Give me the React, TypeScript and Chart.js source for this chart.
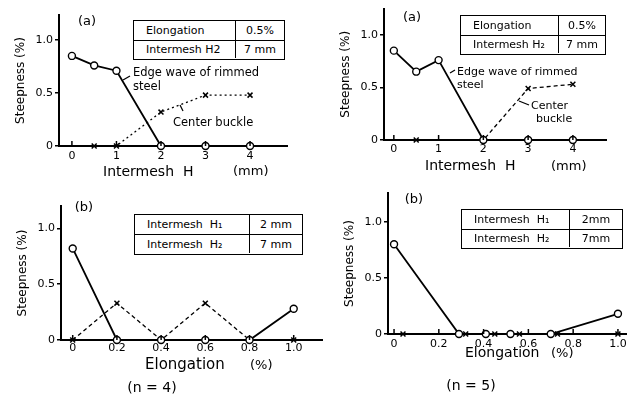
import React, { useEffect, useRef } from 'react';
import { Chart, registerables } from 'chart.js';

Chart.register(...registerables);

// ---------- data ----------
const intermeshTickValues = [0, 1, 2, 3, 4];
const intermeshTickLabels = ['0', '1', '2', '3', '4'];
const elongationTickValues = [0, 0.2, 0.4, 0.6, 0.8, 1.0];
const elongationTickLabels = ['0', '0.2', '0.4', '0.6', '0.8', '1.0'];
const steepnessTickValues = [0, 0.5, 1.0];
const steepnessTickLabels = ['0', '0.5', '1.0'];

// (a) n = 4 : edge wave (circles) and center buckle (crosses)
const aLeftEdgeX = [0, 0.5, 1, 2, 3, 4];
const aLeftEdgeY = [0.85, 0.76, 0.71, 0, 0, 0];
const aLeftCenterX = [0.5, 1, 2, 3, 4];
const aLeftCenterY = [0, 0, 0.32, 0.48, 0.48];

// (a) n = 5
const aRightEdgeX = [0, 0.5, 1, 2, 3, 4];
const aRightEdgeY = [0.85, 0.65, 0.76, 0, 0, 0];
const aRightCenterX = [0.5, 2, 3, 4];
const aRightCenterY = [0, 0, 0.49, 0.53];

// (b) n = 4
const bLeftEdgeX = [0, 0.2, 0.4, 0.6, 0.8, 1.0];
const bLeftEdgeY = [0.82, 0, 0, 0, 0, 0.28];
const bLeftCenterX = [0, 0.2, 0.4, 0.6, 0.8, 1.0];
const bLeftCenterY = [0, 0.33, 0, 0.33, 0, 0];

// (b) n = 5
const bRightEdgeX = [0, 0.29, 0.41, 0.52, 0.7, 1.0];
const bRightEdgeY = [0.8, 0, 0, 0, 0, 0.18];
const bRightCenterX = [0.04, 0.32, 0.45, 0.56, 0.73, 1.0];
const bRightCenterY = [0, 0, 0, 0, 0, 0];

const aLeftTable = [['Elongation', '0.5%'], ['Intermesh H2', '7 mm']];
const aRightTable = [['Elongation', '0.5%'], ['Intermesh H\u2082', '7 mm']];
const bLeftTable = [['Intermesh  H\u2081', '2 mm'], ['Intermesh  H\u2082', '7 mm']];
const bRightTable = [['Intermesh  H\u2081', '2mm'], ['Intermesh  H\u2082', '7mm']];

const FONT = '"DejaVu Sans", "Liberation Sans", sans-serif';
const W = 636;
const H = 396;
const Y_AXIS_W = 50;
const X_AXIS_H = 20;

type Panel = {
  area: { left: number; top: number; right: number; bottom: number };
  xMin: number;
  xMax: number;
  yMax: number;
  xTicks: number[];
  xLabels: string[];
  edgeX: number[];
  edgeY: number[];
  centerX: number[];
  centerY: number[];
  dash: number[];
  xPad: number;
};

const panels: Panel[] = [
  {
    area: { left: 59, top: 15, right: 287, bottom: 146 },
    xMin: -0.29, xMax: 4.83, yMax: 1.236,
    xTicks: intermeshTickValues, xLabels: intermeshTickLabels,
    edgeX: aLeftEdgeX, edgeY: aLeftEdgeY, centerX: aLeftCenterX, centerY: aLeftCenterY,
    dash: [2, 3], xPad: 4,
  },
  {
    area: { left: 384, top: 7, right: 606, bottom: 140 },
    xMin: -0.22, xMax: 4.74, yMax: 1.25,
    xTicks: intermeshTickValues, xLabels: intermeshTickLabels,
    edgeX: aRightEdgeX, edgeY: aRightEdgeY, centerX: aRightCenterX, centerY: aRightCenterY,
    dash: [4, 3], xPad: 3,
  },
  {
    area: { left: 61, top: 206, right: 322, bottom: 340 },
    xMin: -0.053, xMax: 1.128, yMax: 1.2,
    xTicks: elongationTickValues, xLabels: elongationTickLabels,
    edgeX: bLeftEdgeX, edgeY: bLeftEdgeY, centerX: bLeftCenterX, centerY: bLeftCenterY,
    dash: [4, 3], xPad: 2,
  },
  {
    area: { left: 388, top: 193, right: 626, bottom: 334 },
    xMin: -0.027, xMax: 1.036, yMax: 1.256,
    xTicks: elongationTickValues, xLabels: elongationTickLabels,
    edgeX: bRightEdgeX, edgeY: bRightEdgeY, centerX: bRightCenterX, centerY: bRightCenterY,
    dash: [4, 3], xPad: 4,
  },
];

const upTicks = {
  id: 'upTicks',
  afterDraw(chart: any) {
    const xs = chart.scales.x;
    const { ctx } = chart;
    ctx.save();
    ctx.strokeStyle = '#000';
    ctx.lineWidth = 1.5;
    xs.ticks.forEach((t: any) => {
      const px = xs.getPixelForValue(t.value);
      ctx.beginPath();
      ctx.moveTo(px, xs.top);
      ctx.lineTo(px, xs.top - 5);
      ctx.stroke();
    });
    ctx.restore();
  },
};

function PanelChart({ p }: { p: Panel }) {
  const ref = useRef<HTMLCanvasElement>(null);
  useEffect(() => {
    const a = p.area;
    const chart = new Chart(ref.current as HTMLCanvasElement, {
      type: 'line',
      data: {
        datasets: [
          {
            data: p.edgeX.map((x, i) => ({ x, y: p.edgeY[i] })),
            borderColor: '#000',
            borderWidth: 1.8,
            pointStyle: 'circle',
            pointRadius: 3.5,
            pointBackgroundColor: '#fff',
            pointBorderColor: '#000',
            pointBorderWidth: 1.4,
            tension: 0,
            clip: false,
            order: 0,
          } as any,
          {
            data: p.centerX.map((x, i) => ({ x, y: p.centerY[i] })),
            borderColor: '#000',
            borderWidth: 1.3,
            borderDash: p.dash,
            pointStyle: 'crossRot',
            pointRadius: 3.5,
            pointBorderColor: '#000',
            pointBorderWidth: 1.5,
            tension: 0,
            clip: false,
            order: 1,
          } as any,
        ],
      },
      options: {
        responsive: false,
        animation: false,
        events: [],
        layout: {
          padding: {
            left: a.left - Y_AXIS_W,
            top: a.top,
            right: W - a.right,
            bottom: H - a.bottom - X_AXIS_H,
          },
        },
        plugins: { legend: { display: false }, tooltip: { enabled: false } },
        scales: {
          x: {
            type: 'linear',
            min: p.xMin,
            max: p.xMax,
            border: { display: true, color: '#000', width: 2 },
            grid: { display: false, drawTicks: false },
            ticks: {
              color: '#000',
              font: { family: FONT, size: 11 },
              padding: p.xPad,
              maxRotation: 0,
              autoSkip: false,
              callback: (v: any) => {
                const i = p.xTicks.indexOf(Number(v));
                return i >= 0 ? p.xLabels[i] : '';
              },
            },
            afterBuildTicks: (s: any) => {
              s.ticks = p.xTicks.map((v) => ({ value: v }));
            },
            afterFit: (s: any) => {
              s.height = X_AXIS_H;
            },
          },
          y: {
            type: 'linear',
            min: 0,
            max: p.yMax,
            border: { display: true, color: '#000', width: 2 },
            grid: {
              display: true,
              drawOnChartArea: false,
              drawTicks: true,
              tickLength: 4,
              color: '#000',
              lineWidth: 1.5,
            },
            ticks: {
              color: '#000',
              font: { family: FONT, size: 11 },
              padding: 2,
              autoSkip: false,
              callback: (v: any) => {
                const i = steepnessTickValues.indexOf(Number(v));
                return i >= 0 ? steepnessTickLabels[i] : '';
              },
            },
            afterBuildTicks: (s: any) => {
              s.ticks = steepnessTickValues.map((v) => ({ value: v }));
            },
            title: {
              display: true,
              text: 'Steepness (%)',
              color: '#000',
              font: { family: FONT, size: 12 },
              padding: { top: 5, bottom: 3 },
            },
            afterFit: (s: any) => {
              s.width = Y_AXIS_W;
            },
          },
        },
      },
      plugins: [upTicks],
    } as any);
    return () => chart.destroy();
  }, []);
  return (
    <canvas
      ref={ref}
      width={W}
      height={H}
      style={{ position: 'absolute', left: 0, top: 0, width: W, height: H }}
    />
  );
}

function Label({ x, y, text, size, center }: { x: number; y: number; text: string; size: number; center?: boolean }) {
  return (
    <div
      style={{
        position: 'absolute',
        left: x,
        top: y,
        transform: `translate(${center ? '-50%' : '0'}, -50%)`,
        fontFamily: FONT,
        fontSize: size,
        lineHeight: 1,
        whiteSpace: 'pre',
        color: '#000',
      }}
    >
      {text}
    </div>
  );
}

function Table({ x, y, w, h, col, rows, size }: { x: number; y: number; w: number; h: number; col: number; rows: string[][]; size: number }) {
  const rh = h / rows.length;
  return (
    <div
      style={{
        position: 'absolute',
        left: x,
        top: y,
        width: w,
        height: h,
        boxSizing: 'border-box',
        border: '1.5px solid #000',
        fontFamily: FONT,
        fontSize: size,
        color: '#000',
        background: '#fff',
      }}
    >
      {rows.map((r, i) => (
        <div
          key={i}
          style={{
            position: 'absolute',
            left: 0,
            top: i * rh - (i > 0 ? 1.5 : 0),
            width: '100%',
            height: rh - 1.5,
            borderTop: i > 0 ? '1.5px solid #000' : 'none',
            boxSizing: 'border-box',
          }}
        >
          <div
            style={{
              position: 'absolute',
              left: 12,
              top: 0,
              height: '100%',
              display: 'flex',
              alignItems: 'center',
              whiteSpace: 'pre',
            }}
          >
            {r[0]}
          </div>
          <div
            style={{
              position: 'absolute',
              left: col,
              right: 0,
              top: 0,
              height: '100%',
              display: 'flex',
              alignItems: 'center',
              justifyContent: 'center',
              borderLeft: '1.5px solid #000',
              whiteSpace: 'pre',
            }}
          >
            {r[1]}
          </div>
        </div>
      ))}
    </div>
  );
}

export default function App() {
  return (
    <div
      style={{
        position: 'fixed',
        left: 0,
        top: 0,
        width: W,
        height: H,
        background: '#fff',
        overflow: 'hidden',
      }}
    >
      {panels.map((p, i) => (
        <PanelChart key={i} p={p} />
      ))}

      <Table x={133} y={20} w={152} h={40} col={101} rows={aLeftTable} size={11} />
      <Table x={460} y={15} w={146} h={40} col={97} rows={aRightTable} size={11} />
      <Table x={134} y={214} w={169} h={41} col={114} rows={bLeftTable} size={11} />
      <Table x={461} y={209} w={162} h={40} col={107} rows={bRightTable} size={11} />

      <Label x={87} y={20} text="(a)" size={13} center />
      <Label x={133} y={73} text="Edge wave of rimmed" size={11.5} />
      <Label x={133} y={87} text="steel" size={11.5} />
      <Label x={173} y={123} text="Center buckle" size={11.5} />
      <Label x={103} y={171} text="Intermesh  H" size={14} />
      <Label x={233} y={170} text="(mm)" size={13} />

      <Label x={412} y={16} text="(a)" size={13} center />
      <Label x={457} y={71} text="Edge wave of rimmed" size={11} />
      <Label x={457} y={84} text="steel" size={11} />
      <Label x={531} y={105} text="Center" size={11} />
      <Label x={536} y={118} text="buckle" size={11} />
      <Label x={425} y={165} text="Intermesh  H" size={14} />
      <Label x={551} y={165} text="(mm)" size={13} />

      <Label x={84} y={206} text="(b)" size={13} center />
      <Label x={145} y={364} text="Elongation" size={15} />
      <Label x={250} y={364} text="(%)" size={13} />
      <Label x={152} y={387} text="(n = 4)" size={14} center />

      <Label x={414} y={198} text="(b)" size={13} center />
      <Label x={465} y={352} text="Elongation" size={14} />
      <Label x={551} y={352} text="(%)" size={13} />
      <Label x={471} y={385} text="(n = 5)" size={14} center />

      <svg width={W} height={H} style={{ position: 'absolute', left: 0, top: 0, pointerEvents: 'none' }}>
        <g stroke="#000" strokeWidth={1.3} fill="none">
          <line x1={130} y1={76} x2={123} y2={80} />
          <line x1={180} y1={105} x2={183} y2={111} />
          <line x1={455} y1={70} x2={450} y2={73} />
          <line x1={529} y1={105} x2={519} y2={101} />
        </g>
      </svg>
    </div>
  );
}
